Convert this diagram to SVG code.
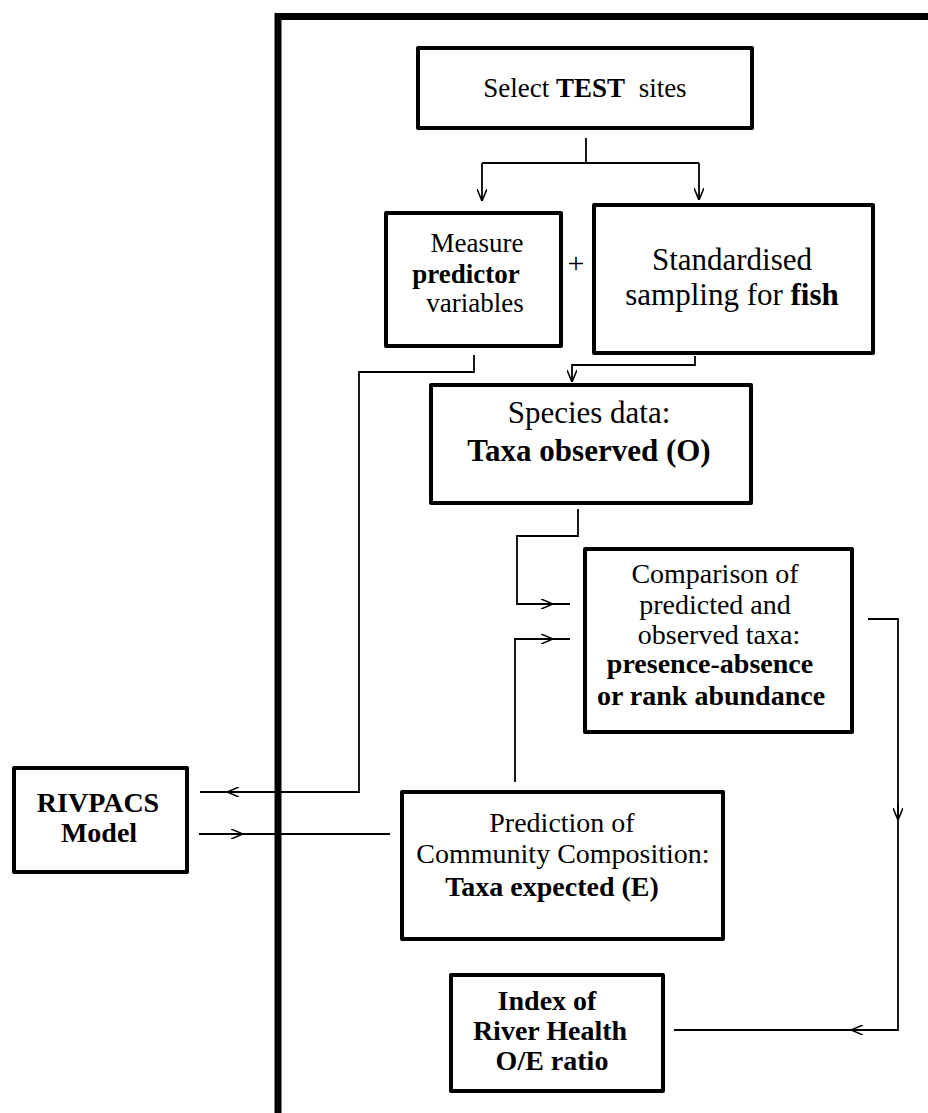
<svg xmlns="http://www.w3.org/2000/svg" width="928" height="1113" viewBox="0 0 928 1113">
<style>
.box{fill:#fff;stroke:#000;stroke-width:4;stroke-linejoin:round}
.frame{fill:none;stroke:#000;stroke-width:7;stroke-linejoin:miter}
.ln{fill:none;stroke:#000;stroke-width:1.8}
.t{font-family:"Liberation Serif","Times New Roman",serif;fill:#000;text-anchor:middle}
.b{font-weight:bold}
</style>
<defs>
<marker id="arr" markerUnits="userSpaceOnUse" viewBox="0 0 12 10" refX="12" refY="5" markerWidth="12" markerHeight="10" orient="auto">
<path d="M0,0 L12,5 L0,10" fill="none" stroke="#000" stroke-width="1.6"/>
</marker>
</defs>
<rect width="928" height="1113" fill="#fff"/>
<path class="frame" d="M278,1113 V16.5 H928"/>

<g id="connectors">
<path class="ln" d="M586,138 V163 M482,163 H699"/>
<path class="ln" d="M482,163 V201" marker-end="url(#arr)"/>
<path class="ln" d="M699,163 V200" marker-end="url(#arr)"/>
<path class="ln" d="M474,355 V372 H359 V792 H200"/>
<path class="ln" d="M245,792 H227" marker-end="url(#arr)"/>
<path class="ln" d="M695,356 V365 H572 V382" marker-end="url(#arr)"/>
<path class="ln" d="M578,509 V536 H517 V604 H570"/>
<path class="ln" d="M538,604 H553" marker-end="url(#arr)"/>
<path class="ln" d="M515,782 V639 H570"/>
<path class="ln" d="M538,639 H553" marker-end="url(#arr)"/>
<path class="ln" d="M199,834 H390"/>
<path class="ln" d="M228,834 H243" marker-end="url(#arr)"/>
<path class="ln" d="M868,619 H898 V1030 H674"/>
<path class="ln" d="M898,805 V820" marker-end="url(#arr)"/>
<path class="ln" d="M866,1030 H851" marker-end="url(#arr)"/>
</g>

<g id="select">
<rect class="box" x="418" y="48" width="334" height="80"/>
<text class="t" x="585" y="97" font-size="27" xml:space="preserve">Select <tspan class="b">TEST</tspan>  sites</text>
</g>

<g id="measure">
<rect class="box" x="386" y="213" width="175" height="133"/>
<text class="t" x="477" y="252" font-size="27">Measure</text>
<text class="t b" x="466" y="283" font-size="27">predictor</text>
<text class="t" x="475" y="312" font-size="27">variables</text>
</g>

<text id="plus" class="t" x="576" y="273" font-size="30">+</text>

<g id="standardised">
<rect class="box" x="594" y="205" width="279" height="148"/>
<text class="t" x="732" y="270" font-size="31">Standardised</text>
<text class="t" x="732" y="305" font-size="31">sampling for <tspan class="b">fish</tspan></text>
</g>

<g id="species">
<rect class="box" x="431" y="385" width="320" height="118"/>
<text class="t" x="589" y="423" font-size="31">Species data:</text>
<text class="t b" x="589" y="461" font-size="31">Taxa observed (O)</text>
</g>

<g id="comparison">
<rect class="box" x="585" y="549" width="267" height="183"/>
<text class="t" x="715" y="583" font-size="28">Comparison of</text>
<text class="t" x="715" y="614" font-size="28">predicted and</text>
<text class="t" x="719" y="644" font-size="28">observed taxa:</text>
<text class="t b" x="710" y="673" font-size="28">presence-absence</text>
<text class="t b" x="711" y="705" font-size="28">or rank abundance</text>
</g>

<g id="rivpacs">
<rect class="box" x="14" y="768" width="173" height="104"/>
<text class="t b" x="98" y="812" font-size="28">RIVPACS</text>
<text class="t b" x="99" y="842" font-size="28">Model</text>
</g>

<g id="prediction">
<rect class="box" x="402" y="792" width="321" height="147"/>
<text class="t" x="562" y="832" font-size="28">Prediction of</text>
<text class="t" x="563" y="863" font-size="28">Community Composition:</text>
<text class="t b" x="552" y="896" font-size="28">Taxa expected (E)</text>
</g>

<g id="index">
<rect class="box" x="451" y="975" width="212" height="116"/>
<text class="t b" x="547" y="1010" font-size="28">Index of</text>
<text class="t b" x="550" y="1040" font-size="28">River Health</text>
<text class="t b" x="552" y="1070" font-size="28">O/E ratio</text>
</g>
</svg>
